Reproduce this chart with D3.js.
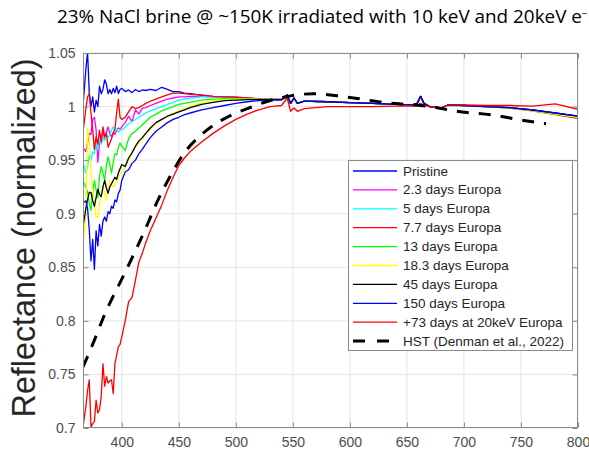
<!DOCTYPE html>
<html>
<head>
<meta charset="utf-8">
<script src="https://cdn.jsdelivr.net/npm/d3@7"></script>
<style>
body{margin:0;background:#fff}
</style>
</head>
<body>
<div id="chart"></div>
<script>
var wavelengths = [366,368.5,370,371.5,373,374.5,376,377.5,379,380.5,382,383.5,385,386.5,388,389.5,391,392.5,394,395.5,397,398.5,400,
	403,406,409,412,415,418,421,425,430,435,440,445,450,455,460,470,480,490,500,510,520,530,540,
	545,548,551,554,560,580,600,620,640,655,659,662,665,670,680,686,700,720,740,760,780,800]

var pristine = [1.0,1.035,1.051,1.013,1.0,1.009,0.995,1.006,1.0,1.019,1.012,1.016,1.025,1.021,1.012,1.016,1.012,1.017,1.013,1.019,1.012,1.016,1.017,
	1.014,1.0155,1.013,1.016,1.014,1.0155,1.015,1.016,1.015,1.018,1.016,1.014,1.014,1.0125,1.012,1.0105,1.0095,1.009,1.0087,1.008,1.007,1.0068,1.0065,
	1.011,1.003,1.008,1.003,1.005,1.0045,1.0036,1.003,1.002,1.0015,1.003,1.0095,1.003,1.0,0.9985,1.0015,1.001,1.0,0.999,0.997,0.994,0.991]

var days2_3 = [0.962,0.958,0.966,0.975,0.974,0.988,0.99,0.978,0.948,0.966,0.969,0.978,0.969,0.976,0.981,0.975,0.972,0.976,0.974,0.978,0.98,0.979,0.981,
	0.985,0.991,0.986,0.997,0.993,0.9985,0.999,1.001,1.003,1.005,1.007,1.008,1.009,1.009,1.0095,1.0095,1.009,1.0085,1.008,1.0077,1.0073,1.007,1.0066,
	1.009,1.003,1.007,1.003,1.005,1.0045,1.0036,1.003,1.002,1.0015,1.003,1.009,1.003,1.0,0.9985,1.0012,1.0008,0.9998,0.9988,0.9965,0.9935,0.9905]

var days5 = [0.948,0.938,0.944,0.955,0.95,0.958,0.956,0.966,0.96,0.972,0.965,0.97,0.969,0.974,0.971,0.9735,0.978,0.981,0.977,0.979,0.976,0.978,0.978,
	0.981,0.984,0.986,0.988,0.99,0.992,0.994,0.996,0.998,1.0,1.002,1.004,1.006,1.007,1.008,1.009,1.009,1.0085,1.008,1.0077,1.0072,1.0068,1.0065,
	1.009,1.003,1.007,1.003,1.005,1.0045,1.0036,1.003,1.002,1.0015,1.003,1.009,1.003,1.0,0.9985,1.0012,1.0008,0.9998,0.9988,0.9965,0.9935,0.9905]

var days7_7 = [0.976,0.998,1.009,1.012,0.994,0.978,0.96,0.972,0.965,0.978,0.967,0.981,0.972,0.975,0.962,0.966,0.97,0.975,0.979,0.994,1.007,0.99,0.988,
	0.99,0.995,1.0,0.998,0.999,1.001,1.003,1.005,1.007,1.009,1.011,1.0125,1.0125,1.012,1.0115,1.011,1.0095,1.009,1.0085,1.008,1.0075,1.007,1.0068,
	1.009,1.003,1.007,1.003,1.005,1.0045,1.0036,1.003,1.002,1.0015,1.003,1.009,1.003,1.0,0.9985,1.0015,1.001,1.0,0.9985,0.996,0.9925,0.989]

var days13 = [0.931,0.925,0.92,0.91,0.903,0.92,0.931,0.922,0.915,0.935,0.944,0.938,0.931,0.945,0.953,0.946,0.938,0.948,0.956,0.955,0.962,0.966,0.963,
	0.959,0.97,0.975,0.977,0.98,0.983,0.986,0.99,0.993,0.996,0.998,1.0,1.002,1.003,1.004,1.006,1.007,1.0075,1.0075,1.0072,1.007,1.0067,1.0065,
	1.009,1.003,1.007,1.003,1.005,1.0045,1.0036,1.003,1.002,1.0015,1.003,1.009,1.003,1.0,0.9985,1.0012,1.0008,0.9998,0.9988,0.9962,0.993,0.99]

var days18_3 = [0.869,0.9,0.98,0.969,0.938,0.92,0.91,0.897,0.897,0.91,0.918,0.925,0.919,0.913,0.925,0.931,0.928,0.925,0.926,0.93,0.934,0.937,0.938,
	0.944,0.95,0.956,0.9625,0.966,0.97,0.974,0.979,0.984,0.988,0.991,0.994,0.996,0.998,1.0,1.0035,1.0055,1.0065,1.007,1.007,1.0068,1.0066,1.0065,
	1.009,1.003,1.007,1.003,1.005,1.0045,1.0036,1.003,1.002,1.0015,1.003,1.009,1.003,1.0,0.9985,1.0012,1.0008,0.9998,0.9988,0.9962,0.993,0.99]

var days45 = [0.888,0.905,0.913,0.92,0.92,0.912,0.907,0.915,0.923,0.918,0.916,0.925,0.931,0.924,0.919,0.925,0.928,0.931,0.934,0.932,0.938,0.942,0.946,
	0.944,0.952,0.957,0.963,0.968,0.971,0.975,0.98,0.985,0.988,0.991,0.993,0.995,0.997,0.999,1.002,1.004,1.0055,1.006,1.0065,1.0065,1.0065,1.0065,
	1.01,1.003,1.008,1.003,1.005,1.0045,1.0036,1.003,1.002,1.0015,1.003,1.0095,1.003,1.0,0.9985,1.0015,1.001,1.0,0.999,0.9968,0.9938,0.991]

var days150 = [0.91,0.912,0.905,0.885,0.856,0.876,0.848,0.884,0.87,0.89,0.879,0.893,0.897,0.893,0.902,0.9,0.907,0.905,0.913,0.911,0.919,0.922,0.931,
	0.939,0.941,0.947,0.95,0.956,0.96,0.965,0.971,0.977,0.981,0.985,0.988,0.99,0.9925,0.994,0.997,0.999,1.001,1.003,1.0045,1.0055,1.006,1.0062,
	1.011,1.003,1.008,1.003,1.005,1.0045,1.0036,1.003,1.002,1.0015,1.003,1.0095,1.003,1.0,0.9985,1.0015,1.001,1.0,0.999,0.997,0.994,0.991]

var days73at20keV = [0.701,0.72,0.735,0.745,0.701,0.704,0.706,0.726,0.714,0.717,0.73,0.76,0.739,0.748,0.742,0.744,0.745,0.732,0.76,0.768,0.776,0.778,0.785,
	0.8,0.818,0.822,0.838,0.855,0.863,0.873,0.884,0.896,0.908,0.922,0.934,0.945,0.952,0.958,0.967,0.975,0.982,0.988,0.993,0.997,1.0,1.001,
	1.008,0.9956,0.9987,0.9956,0.998,1.0,1.0,1.0,1.0005,1.0005,1.001,1.003,1.001,1.0,0.9985,1.0015,1.0015,1.001,1.001,1.0005,1.0025,0.9975]

var hstWavelengths = [366,376,385,392,401,410,420,431,443,455,469,484,498,510,528,548,568,589,610,629,650,671,691,726,750,772]
var hstValues = [0.757,0.782,0.806,0.822,0.841,0.861,0.884,0.911,0.936,0.957,0.973,0.985,0.993,0.998,1.005,1.010,1.012,1.010,1.007,1.004,1.002,1.000,0.996,0.992,0.9875,0.984]

var seriesValues = [pristine,days2_3,days5,days7_7,days13,days18_3,days45,days150,days73at20keV]
var legendLabels = ["Pristine","2.3 days Europa","5 days Europa","7.7 days Europa","13 days Europa","18.3 days Europa","45 days Europa","150 days Europa","+73 days at 20keV Europa","HST (Denman et al., 2022)"]
var lineColors = ["#0000ff","#ff00ff","#00ffff","#ff0000","#00ff00","#ffff00","#000000","#0000ff","#ff0000","#000000"]

var xTicks = [400,450,500,550,600,650,700,750,800]
var yTicks = [0.7,0.75,0.8,0.85,0.9,0.95,1,1.05]
var yTickLabels = ["0.7","0.75","0.8","0.85","0.9","0.95","1","1.05"]

var width = 589
var height = 456
var margin = {left:83,right:11,top:53,bottom:28}

var svg = d3.select("#chart").append("svg").attr("width",width).attr("height",height)

var x = d3.scaleLinear().domain([366,800]).range([margin.left,width-margin.right])
var y = d3.scaleLinear().domain([0.7,1.05]).range([height-margin.bottom,margin.top])

// grid
svg.append("g").selectAll("line").data(xTicks).join("line")
	.attr("x1",d=>x(d)).attr("x2",d=>x(d)).attr("y1",y(0.7)).attr("y2",y(1.05))
	.attr("stroke","#e5e5e5").attr("stroke-width",1)
svg.append("g").selectAll("line").data(yTicks).join("line")
	.attr("x1",x(366)).attr("x2",x(800)).attr("y1",d=>y(d)).attr("y2",d=>y(d))
	.attr("stroke","#e5e5e5").attr("stroke-width",1)

svg.append("clipPath").attr("id","plotclip").append("rect")
	.attr("x",x(366)).attr("y",y(1.05)).attr("width",x(800)-x(366)).attr("height",y(0.7)-y(1.05))

var plot = svg.append("g").attr("clip-path","url(#plotclip)")
var line = d3.line().x((d,i)=>x(wavelengths[i])).y(d=>y(d))

seriesValues.forEach(function(vals,i){
	plot.append("path").attr("d",line(vals))
		.attr("fill","none").attr("stroke",lineColors[i]).attr("stroke-width",1.3)
		.attr("stroke-linejoin","round")
})

var hstLine = d3.line().curve(d3.curveMonotoneX).x((d,i)=>x(hstWavelengths[i])).y(d=>y(d))
plot.append("path").attr("d",hstLine(hstValues))
	.attr("fill","none").attr("stroke","#000").attr("stroke-width",3)
	.attr("stroke-dasharray","12,10")

// axes box
var axisColor = "#8a8a8a"
svg.append("rect").attr("x",x(366)+0.5).attr("y",y(1.05)+0.5)
	.attr("width",x(800)-x(366)-1).attr("height",y(0.7)-y(1.05)-1)
	.attr("fill","none").attr("stroke",axisColor).attr("stroke-width",1)

var xAxisB = d3.axisBottom(x).tickValues(xTicks).tickSizeInner(-5).tickSizeOuter(0).tickPadding(10)
var gx = svg.append("g").attr("transform","translate(0,"+(y(0.7)-0.5)+")").call(xAxisB)
var xAxisT = d3.axisTop(x).tickValues(xTicks).tickSizeInner(-5).tickSizeOuter(0).tickFormat("")
var gxt = svg.append("g").attr("transform","translate(0,"+(y(1.05)+0.5)+")").call(xAxisT)

var yAxisL = d3.axisLeft(y).tickValues(yTicks).tickSizeInner(-5).tickSizeOuter(0).tickPadding(8)
	.tickFormat((d,i)=>yTickLabels[i])
var gy = svg.append("g").attr("transform","translate("+(x(366)+0.5)+",0)").call(yAxisL)
var yAxisR = d3.axisRight(y).tickValues(yTicks).tickSizeInner(-5).tickSizeOuter(0).tickFormat("")
var gyr = svg.append("g").attr("transform","translate("+(x(800)-0.5)+",0)").call(yAxisR)

;[gx,gxt,gy,gyr].forEach(function(g){
	g.select(".domain").remove()
	g.selectAll("line").attr("stroke",axisColor)
	g.selectAll("text").attr("fill","#4d4d4d").style("font-family","'Liberation Sans',Arial,sans-serif").style("font-size","14px")
})

// y label
var ylab = svg.append("text").text("Reflectance (normalized)")
	.attr("transform","translate(35,238) rotate(-90)")
	.attr("text-anchor","middle").attr("fill","#262626")
	.style("font-family","'Liberation Sans',Arial,sans-serif").style("font-size","28px")
var yw = ylab.node().getComputedTextLength()
ylab.style("font-size",(28*359/yw)+"px")

// title
var title = svg.append("text").attr("x",57).attr("y",23).attr("fill","#000")
	.style("font-family","'Open Sans','Noto Sans',sans-serif").style("font-size","16px")
title.append("tspan").text("23% NaCl brine @ ~150K irradiated with 10 keV and 20keV e")
title.append("tspan").text("\u2212").attr("dy",-6).style("font-size","10px")
var tw = title.node().getComputedTextLength()
title.style("font-size",(16*532/tw)+"px")

// legend
var lg = svg.append("g")
lg.append("rect").attr("x",348.5).attr("y",160.5).attr("width",224).attr("height",190)
	.attr("fill","#fff").attr("stroke","#8a8a8a").attr("stroke-width",1)
legendLabels.forEach(function(lab,i){
	var ly = 171 + i*18.9
	var l = lg.append("line").attr("x1",353).attr("x2",397).attr("y1",ly).attr("y2",ly)
		.attr("stroke",lineColors[i]).attr("stroke-width",i==9?3:1.3)
	if(i==9){ l.attr("stroke-dasharray","12,12") }
	lg.append("text").text(lab).attr("x",403).attr("y",ly+4.5).attr("fill","#262626")
		.style("font-family","'Liberation Sans',Arial,sans-serif").style("font-size","13.5px")
})
</script>
</body>
</html>
